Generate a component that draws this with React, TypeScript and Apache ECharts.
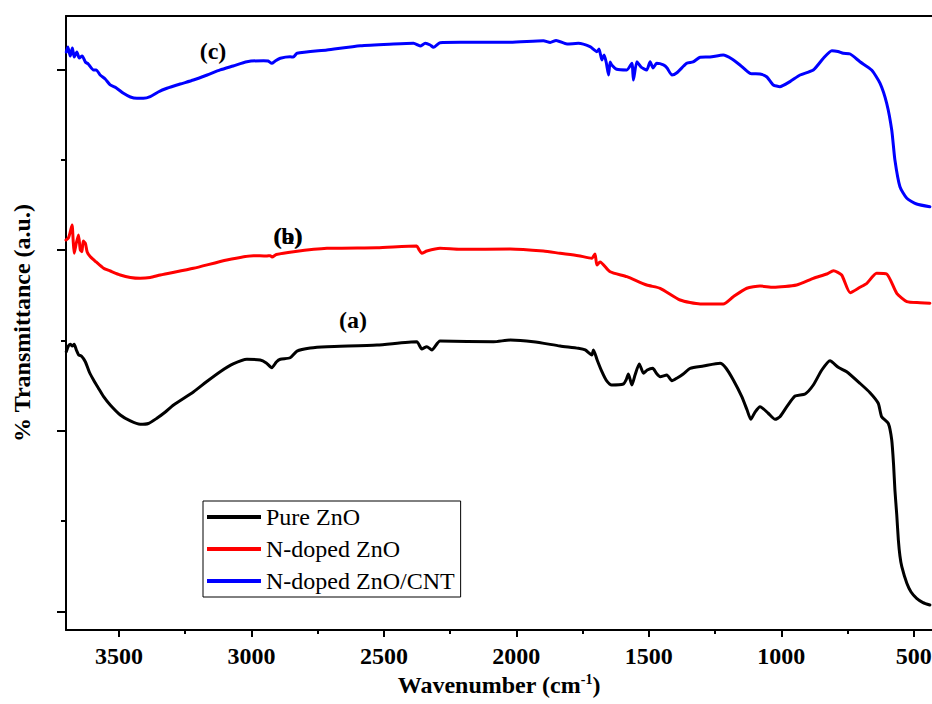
import React, { useEffect, useRef } from "react";
import * as echarts from "echarts";

// ---------- data (wavenumber in cm^-1, transmittance in arbitrary units) ----------
const seriesNames = ["Pure ZnO", "N-doped ZnO", "N-doped ZnO/CNT"];
const seriesColors = ["#000000", "#ff0000", "#0000ff"];

const pureWn = [3699, 3691, 3684, 3676, 3669, 3661, 3652, 3642, 3627, 3612, 3596, 3578, 3558, 3533, 3495, 3457, 3420, 3389, 3357, 3325, 3294, 3218, 3171, 3118, 3069, 3017, 2967, 2944, 2923, 2906, 2891, 2854, 2828, 2778, 2715, 2526, 2376, 2357, 2338, 2319, 2288, 2086, 2023, 1936, 1835, 1766, 1740, 1715, 1709, 1695, 1677, 1661, 1640, 1596, 1586, 1577, 1564, 1552, 1536, 1520, 1506, 1485, 1472, 1457, 1432, 1413, 1393, 1370, 1344, 1294, 1231, 1209, 1181, 1149, 1129, 1115, 1099, 1080, 1050, 1023, 1005, 979, 948, 910, 879, 847, 816, 785, 753, 703, 665, 634, 621, 596, 583, 576, 571, 564, 558, 552, 545, 526, 510, 489, 465, 439];
const pureT = [28.74, 29.37, 29.56, 29.37, 29.56, 28.93, 28.37, 28.26, 27.63, 26.49, 25.6, 24.72, 23.76, 22.84, 21.73, 21.07, 20.7, 20.79, 21.37, 22.06, 22.84, 24.31, 25.38, 26.52, 27.38, 27.9, 27.82, 27.49, 26.97, 27.6, 27.9, 28.07, 28.81, 29.15, 29.29, 29.48, 29.84, 29.04, 29.29, 28.93, 29.92, 29.84, 30.03, 29.84, 29.37, 29.11, 28.93, 28.37, 28.93, 27.82, 26.52, 25.6, 25.05, 25.16, 25.6, 26.27, 25.05, 26.16, 27.38, 26.35, 26.71, 26.9, 26.38, 25.97, 26.16, 25.53, 25.83, 26.27, 26.9, 27.15, 27.45, 26.93, 25.6, 23.76, 22.28, 21.25, 22.06, 22.65, 21.95, 21.25, 21.54, 22.65, 23.83, 24.06, 25.05, 26.71, 27.74, 27.01, 26.52, 25.24, 24.2, 23.03, 21.54, 20.81, 18.96, 16.2, 13.43, 10.66, 7.89, 6.12, 4.94, 3.1, 2.14, 1.44, 0.97, 0.7];

const nDopedWn = [3700, 3691, 3684, 3677, 3673, 3669, 3661, 3653, 3646, 3640, 3635, 3627, 3620, 3608, 3586, 3558, 3533, 3495, 3457, 3420, 3382, 3344, 3219, 3093, 2992, 2944, 2929, 2922, 2906, 2841, 2715, 2526, 2376, 2367, 2357, 2338, 2288, 2212, 2023, 1898, 1835, 1766, 1715, 1703, 1696, 1684, 1646, 1583, 1508, 1457, 1382, 1306, 1219, 1181, 1130, 1080, 1030, 942, 879, 828, 803, 772, 740, 703, 677, 640, 602, 564, 526, 476, 439];
const nDopedT = [41.1, 41.32, 41.99, 42.76, 41.1, 39.63, 40.77, 41.66, 40.0, 39.81, 40.99, 40.74, 39.77, 39.25, 38.67, 37.97, 37.67, 37.23, 36.95, 36.86, 36.95, 37.23, 37.97, 38.89, 39.37, 39.33, 39.37, 39.22, 39.5, 39.81, 40.18, 40.25, 40.44, 40.0, 39.63, 39.88, 40.18, 40.07, 40.11, 39.88, 39.63, 39.37, 39.08, 39.55, 38.34, 38.67, 37.59, 37.04, 36.12, 35.76, 34.46, 34.02, 34.02, 34.83, 35.76, 36.01, 35.87, 36.12, 36.86, 37.34, 37.7, 37.23, 35.27, 35.87, 36.31, 37.42, 37.34, 35.2, 34.27, 34.16, 34.1];

const cntWn = [3699, 3693, 3684, 3676, 3669, 3659, 3650, 3639, 3627, 3616, 3596, 3586, 3571, 3552, 3533, 3510, 3483, 3457, 3432, 3408, 3382, 3352, 3319, 3269, 3219, 3167, 3118, 3069, 3017, 2954, 2937, 2923, 2910, 2891, 2854, 2842, 2828, 2715, 2589, 2464, 2388, 2363, 2344, 2325, 2313, 2288, 2212, 2023, 1898, 1872, 1850, 1809, 1766, 1722, 1696, 1688, 1677, 1669, 1661, 1652, 1646, 1640, 1621, 1583, 1564, 1558, 1545, 1529, 1508, 1495, 1484, 1470, 1445, 1431, 1413, 1394, 1357, 1333, 1306, 1269, 1219, 1186, 1156, 1118, 1080, 1054, 1030, 1005, 967, 929, 879, 841, 809, 786, 766, 740, 703, 659, 627, 602, 583, 571, 552, 526, 489, 439];
const cntT = [61.9, 62.47, 61.47, 62.36, 61.36, 61.91, 61.25, 61.47, 60.81, 60.59, 59.93, 59.93, 59.37, 58.93, 58.27, 57.94, 57.34, 56.93, 56.79, 56.79, 56.97, 57.49, 57.9, 58.37, 58.81, 59.37, 59.93, 60.37, 60.84, 60.95, 60.92, 60.66, 60.92, 61.22, 61.39, 61.36, 61.77, 62.14, 62.61, 62.8, 62.88, 62.58, 62.88, 62.69, 62.43, 62.94, 62.99, 62.99, 63.17, 62.97, 63.19, 62.8, 62.88, 62.5, 61.95, 62.25, 61.03, 61.58, 60.81, 59.37, 60.81, 60.48, 60.0, 59.92, 60.66, 58.81, 60.84, 60.25, 59.92, 60.84, 60.14, 60.66, 60.48, 60.14, 59.37, 59.62, 60.66, 60.81, 61.33, 61.36, 61.58, 61.14, 60.48, 59.56, 59.48, 59.15, 58.27, 58.08, 58.64, 59.37, 59.92, 61.22, 62.06, 61.97, 61.77, 61.69, 60.84, 59.92, 58.45, 56.24, 53.28, 49.96, 47.0, 45.72, 45.09, 44.79];

const xMajorTicks = [500, 1000, 1500, 2000, 2500, 3000, 3500];
const xMinorTicks = [750, 1250, 1750, 2250, 2750, 3250];
const yMajorTicks = [0, 20, 40, 60];
const yMinorTicks = [10, 30, 50];
const annotations = [
  { text: "(c)", x: 213, y: 51 },
  { text: "(b)", x: 288, y: 236 },
  { text: "(a)", x: 288, y: 236 },
  { text: "(a)", x: 353, y: 320 },
];

const X_MIN = 431;
const X_MAX = 3700;
const Y_MIN = -2.07;
const Y_MAX = 65.9;
const FONT = "'Times New Roman', 'Liberation Serif', serif";

const zip = (xs: number[], ys: number[]) => xs.map((x, i) => [x, ys[i]]);

export default function App() {
  const ref = useRef<HTMLDivElement>(null);
  useEffect(() => {
    if (!ref.current) return;
    const chart = echarts.init(ref.current, undefined, { renderer: "svg" });
    const datasets = [zip(pureWn, pureT), zip(nDopedWn, nDopedT), zip(cntWn, cntT)];
    const baseX = {
      type: "value" as const,
      min: X_MIN,
      max: X_MAX,
      inverse: true,
      splitLine: { show: false },
    };
    const baseY = {
      type: "value" as const,
      min: Y_MIN,
      max: Y_MAX,
      splitLine: { show: false },
    };
    chart.setOption({
      animation: false,
      backgroundColor: "#ffffff",
      grid: {
        left: 66,
        right: 0,
        top: 16,
        bottom: 74,
        containLabel: false,
        outerBoundsMode: "none",
      },
      xAxis: [
        {
          ...baseX,
          position: "bottom",
          name: "Wavenumber (cm{sup|-1})",
          nameLocation: "middle",
          nameGap: 42,
          nameTextStyle: {
            fontFamily: FONT,
            fontWeight: "bold",
            fontSize: 24,
            color: "#000",
            rich: {
              sup: {
                fontFamily: FONT,
                fontWeight: "bold",
                fontSize: 14,
                color: "#000",
                verticalAlign: "top",
                padding: [0, 0, 10, 0],
              },
            },
          },
          axisLine: { show: true, onZero: false, lineStyle: { color: "#000", width: 2 } },
          axisTick: { show: true, length: 7, customValues: xMajorTicks, lineStyle: { color: "#000", width: 2 } },
          axisLabel: {
            show: true,
            customValues: xMajorTicks,
            formatter: (v: number) => String(Math.round(v)),
            margin: 14,
            fontFamily: FONT,
            fontWeight: "bold",
            fontSize: 24,
            color: "#000",
          },
        },
        {
          ...baseX,
          position: "bottom",
          axisLine: { show: false, onZero: false },
          axisTick: { show: true, length: 4, customValues: xMinorTicks, lineStyle: { color: "#000", width: 2 } },
          axisLabel: { show: false },
        },
        {
          ...baseX,
          position: "top",
          axisLine: { show: true, onZero: false, lineStyle: { color: "#000", width: 2 } },
          axisTick: { show: false },
          axisLabel: { show: false },
        },
      ],
      yAxis: [
        {
          ...baseY,
          position: "left",
          name: "% Transmittance (a.u.)",
          nameLocation: "middle",
          nameGap: 32,
          nameRotate: 90,
          nameTextStyle: { fontFamily: FONT, fontWeight: "bold", fontSize: 24, color: "#000" },
          axisLine: { show: true, onZero: false, lineStyle: { color: "#000", width: 2 } },
          axisTick: { show: true, length: 9, customValues: yMajorTicks, lineStyle: { color: "#000", width: 2 } },
          axisLabel: { show: false },
        },
        {
          ...baseY,
          position: "left",
          axisLine: { show: false, onZero: false },
          axisTick: { show: true, length: 5, customValues: yMinorTicks, lineStyle: { color: "#000", width: 2 } },
          axisLabel: { show: false },
        },
      ],
      legend: {
        show: true,
        orient: "vertical",
        left: 203,
        top: 501,
        padding: [4, 6, 4, 4],
        itemGap: 8,
        itemWidth: 54,
        itemHeight: 4,
        icon: "rect",
        borderColor: "#000",
        borderWidth: 1,
        backgroundColor: "#fff",
        data: seriesNames,
        textStyle: { fontFamily: FONT, fontSize: 24, color: "#000", lineHeight: 24 },
      },
      graphic: annotations.map((a) => ({
        type: "text",
        x: a.x,
        y: a.y,
        z: 10,
        style: {
          text: a.text,
          fontFamily: FONT,
          fontWeight: "bold",
          fontSize: 24,
          fill: "#000",
          align: "center",
          verticalAlign: "middle",
        },
      })),
      series: seriesNames.map((name, i) => ({
        name,
        type: "line",
        xAxisIndex: 0,
        yAxisIndex: 0,
        data: datasets[i],
        symbol: "none",
        showSymbol: false,
        smooth: 0.2,
        color: seriesColors[i],
        lineStyle: { color: seriesColors[i], width: 3, join: "round", cap: "round" },
        itemStyle: { color: seriesColors[i] },
      })),
    });
    return () => chart.dispose();
  }, []);
  return (
    <div
      ref={ref}
      style={{ position: "fixed", left: 0, top: 0, width: 932, height: 704, background: "#fff" }}
    />
  );
}
